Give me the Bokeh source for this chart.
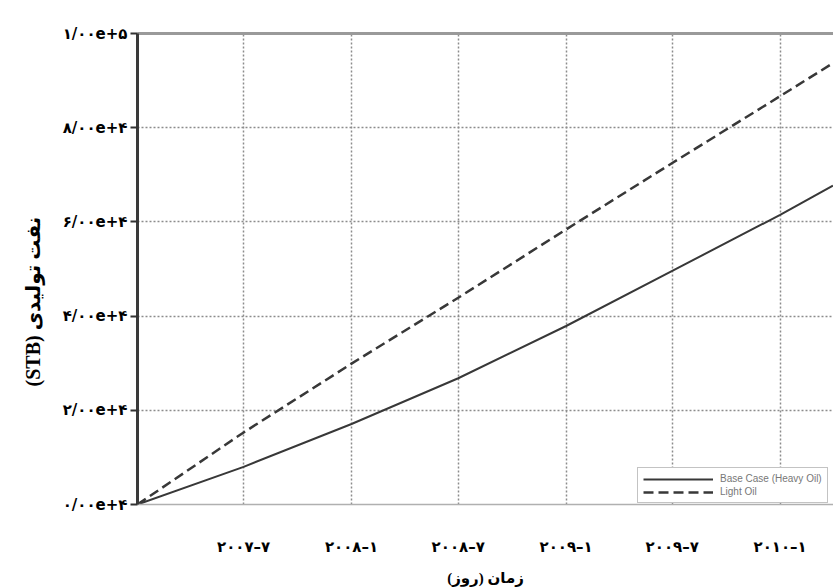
import pandas as pd
from bokeh.plotting import figure
from bokeh.models import (FixedTicker, LinearAxis, Legend, LegendItem, Range1d, Title)
from bokeh.embed import file_html
from bokeh.resources import INLINE

# ---- data ----
dates = ["2007-01-01", "2007-07-01", "2008-01-01", "2008-07-01",
         "2009-01-01", "2009-07-01", "2010-01-01", "2010-04-01"]
heavy_oil = [0, 8000, 17100, 26800, 37900, 49600, 61500, 67700]
light_oil = [0, 15300, 29900, 43900, 58400, 72500, 86700, 93700]
series_names = ["Base Case (Heavy Oil)", "Light Oil"]

x_tick_dates = ["2007-07-01", "2008-01-01", "2008-07-01",
                "2009-01-01", "2009-07-01", "2010-01-01"]
x_tick_labels = ["۲۰۰۷–۷", "۲۰۰۸–۱", "۲۰۰۸–۷", "۲۰۰۹–۱", "۲۰۰۹–۷", "۲۰۱۰–۱"]
y_ticks = [0, 20000, 40000, 60000, 80000, 100000]
y_tick_labels = ["۰/۰۰e+۴", "۲/۰۰e+۴", "۴/۰۰e+۴", "۶/۰۰e+۴", "۸/۰۰e+۴", "۱/۰۰e+۵"]
x_title = "\u202bزمان (روز)\u202c"
y_title = "\u202bنفت تولیدی (STB)\u202c"

x = pd.to_datetime(dates)
x_start = pd.Timestamp("2007-01-01")
x_end = pd.Timestamp("2010-04-02")


def ms(t):
    return pd.Timestamp(t).value / 1e6


p = figure(width=833, height=588, x_axis_type="datetime",
           output_backend="svg", toolbar_location=None,
           x_range=Range1d(ms(x_start), ms(x_end)),
           y_range=Range1d(0, 100000),
           min_border_left=137, min_border_right=0,
           min_border_top=33, min_border_bottom=80)

p.outline_line_color = None
p.background_fill_color = "white"
p.border_fill_color = "white"

TICK_FONT = "DejaVu Sans"
TITLE_FONT = "Liberation Serif, DejaVu Sans"

# x axis
xt = [ms(d) for d in x_tick_dates]
p.xaxis.ticker = FixedTicker(ticks=xt)
p.xaxis.major_label_overrides = {t: l for t, l in zip(xt, x_tick_labels)}
p.xaxis.major_tick_out = 0
p.xaxis.major_tick_in = 0
p.xaxis.minor_tick_line_color = None
p.xaxis.axis_line_color = "#b0b0b0"
p.xaxis.axis_line_width = 1.5
p.xaxis.major_label_standoff = 33
p.xaxis.major_label_text_font = TICK_FONT
p.xaxis.major_label_text_font_style = "bold"
p.xaxis.major_label_text_font_size = "15px"
p.xaxis.major_label_text_color = "black"
p.xaxis.axis_label = x_title
p.xaxis.axis_label_text_font = TITLE_FONT
p.xaxis.axis_label_text_font_style = "bold"
p.xaxis.axis_label_text_font_size = "15px"
p.xaxis.axis_label_text_color = "black"
p.xaxis.axis_label_standoff = 11

# y axis
p.yaxis.ticker = FixedTicker(ticks=y_ticks)
p.yaxis.major_label_overrides = {t: l for t, l in zip(y_ticks, y_tick_labels)}
p.yaxis.major_tick_out = 7
p.yaxis.major_tick_in = 0
p.yaxis.major_tick_line_width = 2
p.yaxis.major_tick_line_color = "#333333"
p.yaxis.minor_tick_line_color = None
p.yaxis.axis_line_color = "#3a3a3a"
p.yaxis.axis_line_width = 3
p.yaxis.major_label_standoff = 3
p.yaxis.major_label_text_font = TICK_FONT
p.yaxis.major_label_text_font_style = "bold"
p.yaxis.major_label_text_font_size = "15px"
p.yaxis.major_label_text_color = "black"

# y title as a vertical title on the left, starting above the frame bottom
ytitle = Title(text=y_title, align="left", offset=118,
               text_font=TITLE_FONT, text_font_style="bold",
               text_font_size="20px", text_color="black", standoff=32)
p.add_layout(ytitle, "left")

# top border as an unlabeled axis
top = LinearAxis(ticker=FixedTicker(ticks=[]), axis_line_color="#9a9a9a",
                 axis_line_width=3, major_label_text_font_size="0px",
                 major_tick_line_color=None, minor_tick_line_color=None)
p.add_layout(top, "above")

# grids
for g in (p.xgrid, p.ygrid):
    g.grid_line_color = "#8c8c8c"
    g.grid_line_width = 1.5
    g.grid_line_dash = "2 2"

# lines
r1 = p.line(x, heavy_oil, line_color="#383838", line_width=2)
r2 = p.line(x, light_oil, line_color="#383838", line_width=2.5,
            line_dash="10 5")

legend = Legend(items=[LegendItem(label=series_names[0], renderers=[r1]),
                       LegendItem(label=series_names[1], renderers=[r2])],
                location=(500, 1))
legend.label_text_font = "Liberation Sans"
legend.label_text_font_size = "10px"
legend.label_text_color = "#777777"
legend.glyph_width = 70
legend.glyph_height = 10
legend.label_height = 10
legend.spacing = 2
legend.padding = 5
legend.margin = 0
legend.label_standoff = 7
legend.border_line_color = "#888888"
legend.border_line_width = 1.5
legend.background_fill_alpha = 1
p.add_layout(legend, "center")

open("out.html", "w").write(file_html(p, INLINE))
